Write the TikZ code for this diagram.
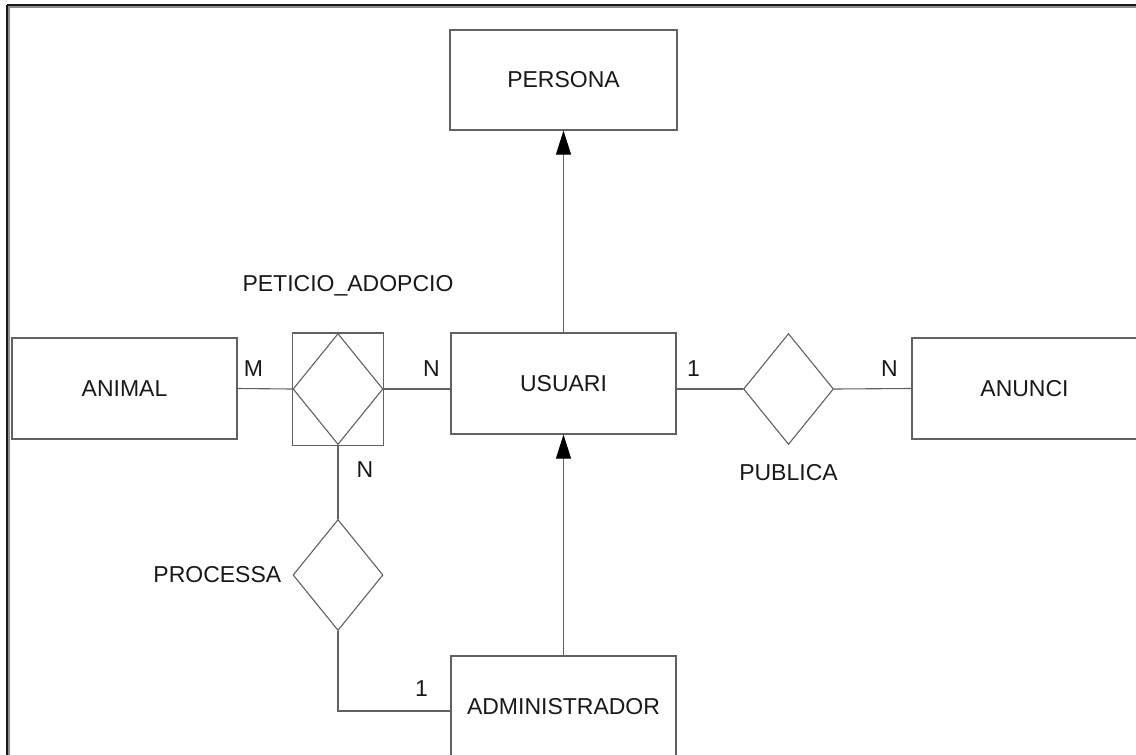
\documentclass[tikz,border=0pt]{standalone}
\usepackage{fontspec}
\setmainfont{Liberation Sans}
\usepackage{tikz}
\usetikzlibrary{arrows.meta,positioning,calc,fit,shapes.geometric}

\begin{document}
\begin{tikzpicture}[x=1pt,y=-1pt]
\colorlet{er line}{black!62}
\colorlet{er text}{black!90}
\tikzset{
     entity/.style={rectangle, draw=er line, line width=1.1pt, minimum width=225pt, minimum height=101pt, inner sep=0pt, text=er text},
     relation/.style={diamond, draw=er line, line width=1.1pt, minimum width=90pt, minimum height=111pt, inner sep=0pt},
     link/.style={draw=er line, line width=1.1pt},
     isa/.style={link, -{Triangle[length=24pt,width=15pt,color=black]}},
     card/.style={text=er text, inner sep=0pt}}

\useasboundingbox (0,0) rectangle (1136,755);
\fill[white] (0,0) rectangle (1136,755);
\fontsize{23}{27}\selectfont

% The frame
\draw[black!45, line width=3pt] (8,6) -- (1150,6);
\draw[black!45, line width=3pt] (8,6) -- (8,770);
\draw[black!90, line width=2pt] (7,5) -- (1150,5);
\draw[black!90, line width=2pt] (7,5) -- (7,770);

% The entities
\node (persona) [entity, minimum width=227pt, minimum height=100pt] at (563.5,80) {PERSONA};
\node (animal)  [entity] at (124.5,388.5) {ANIMAL};
\node (usuari)  [entity] at (563.5,383.5) {USUARI};
\node (anunci)  [entity] at (1024.5,388.5) {ANUNCI};
\node (admin)   [entity] at (563.5,706.5) {ADMINISTRADOR};

% The relations
\node (peticio)  [relation] at (338,389) {};
\node (peticiobox) [rectangle, draw=er line, line width=1.1pt, inner sep=0pt, fit=(peticio)] {};
\node (publica)  [relation] at (788.5,389) {};
\node (processa) [relation] at (338,575) {};

\node (peticiolabel)  [card, above=37pt of peticio.north, xshift=10pt] {PETICIO\_ADOPCIO};
\node (publicalabel)  [card, below=19pt of publica.south] {PUBLICA};
\node (processalabel) [card, left=11pt of processa.west] {PROCESSA};

% The connectors
\draw [link] (animal.east) -- (peticio.west);
\draw [link] (peticio.east) -- (peticio.east -| usuari.west);
\draw [link] (usuari.east |- publica.west) -- (publica.west);
\draw [link] (publica.east) -- (anunci.west);
\draw [link] (peticio.south) -- (processa.north);
\draw [link] (processa.south) |- ([yshift=-4.5pt]admin.west);
\draw [isa] (usuari.north) -- (persona.south);
\draw [isa] (admin.north) -- (usuari.south);

% The cardinalities
\node (card1) at ([xshift=16pt,yshift=20pt]animal.east) [card] {M};
\node (card2) at ([xshift=-19pt,yshift=15pt]usuari.west) [card] {N};
\node (card3) at ([xshift=17pt,yshift=15pt]usuari.east) [card] {1};
\node (card4) at ([xshift=-22pt,yshift=20pt]anunci.west) [card] {N};
\node (card5) at ([xshift=27pt,yshift=-25pt]peticio.south) [card] {N};
\node (card6) at ([xshift=-29pt,yshift=18pt]admin.west) [card] {1};
\end{tikzpicture}
\end{document}
